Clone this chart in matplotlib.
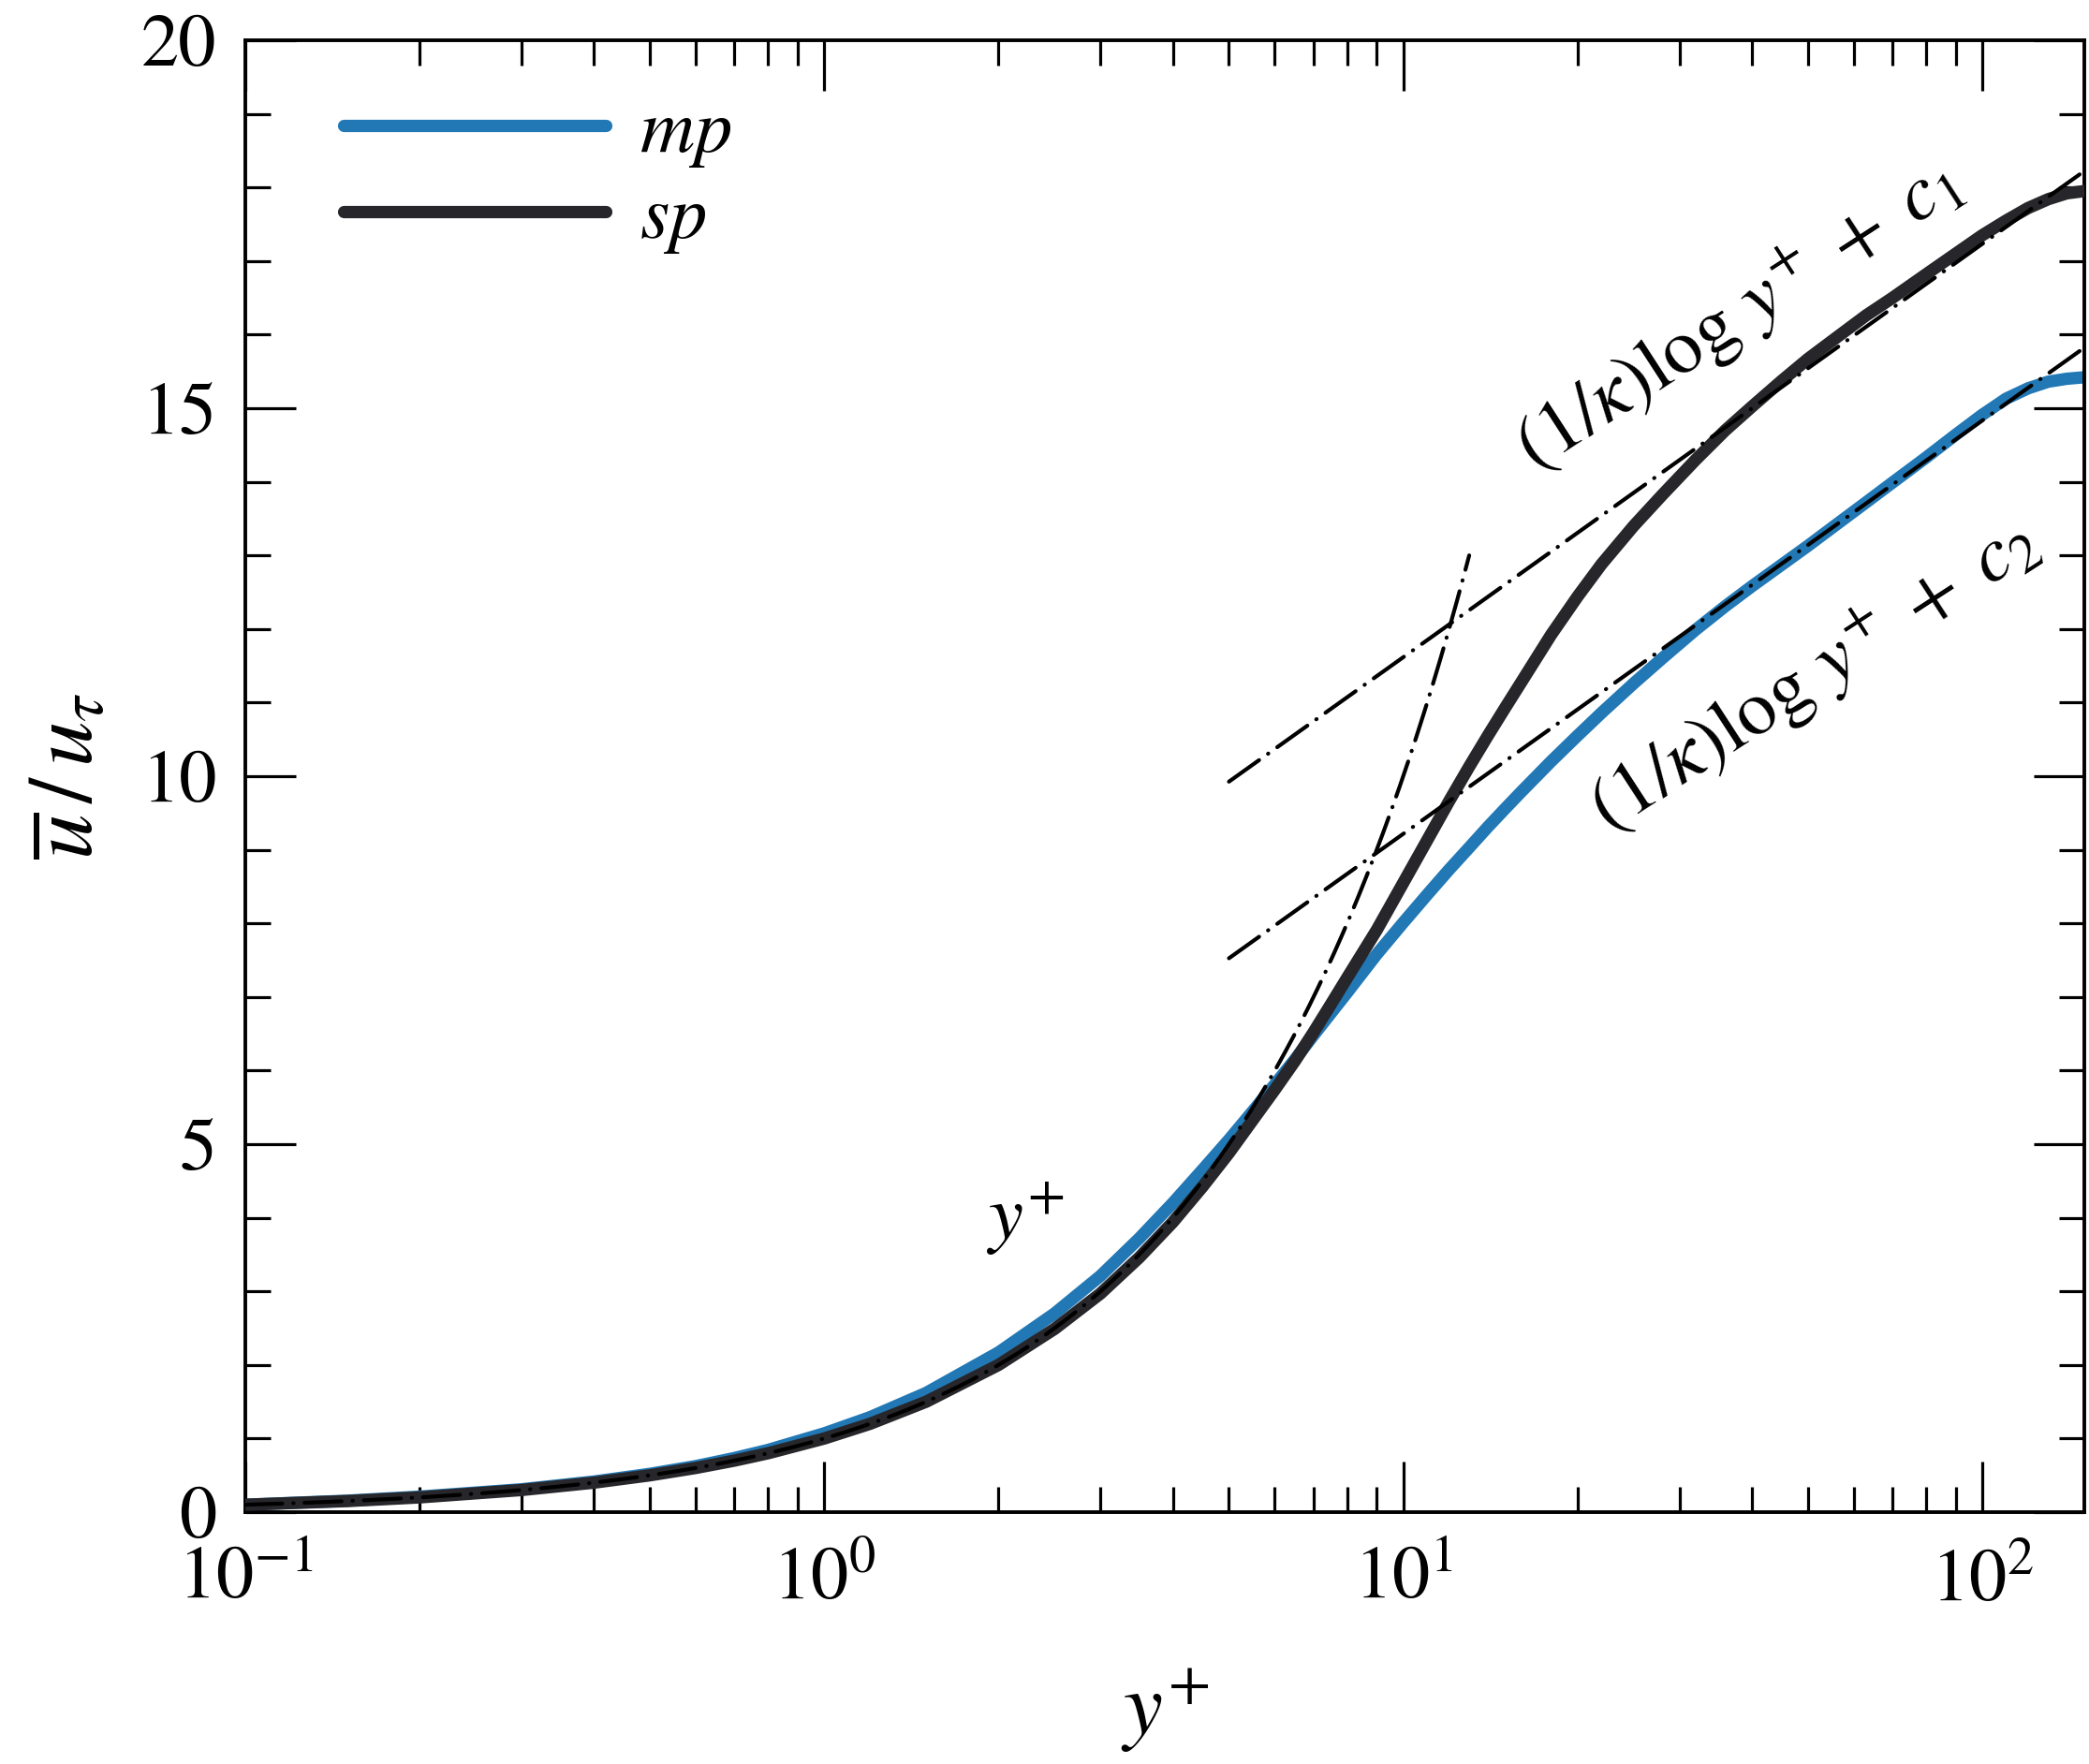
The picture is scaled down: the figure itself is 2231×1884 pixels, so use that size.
import numpy as np
import matplotlib
matplotlib.use('Agg')
import matplotlib.pyplot as plt
from matplotlib.ticker import LogLocator, MultipleLocator, NullFormatter

# ---------------- data ----------------
yplus = [0.1, 0.15, 0.2, 0.3, 0.4, 0.5, 0.6, 0.7, 0.8,
         1, 1.2, 1.5,
         2, 2.5, 3, 3.5, 4, 4.5, 5, 5.5, 6, 6.5, 7, 7.5, 8,
         9, 10, 11, 12, 13, 14, 15, 16,
         18, 20, 22, 25, 28, 32, 36, 40, 45, 50,
         56, 63, 70, 80, 90, 100, 110, 120, 130, 140, 150]
u_mp = [0.10, 0.155, 0.21, 0.31, 0.415, 0.52, 0.625, 0.735, 0.845,
        1.07, 1.29, 1.62,
        2.17, 2.70, 3.21, 3.72, 4.20, 4.65, 5.06, 5.45, 5.81, 6.15, 6.48, 6.78, 7.06,
        7.58, 8.01, 8.39, 8.73, 9.03, 9.31, 9.56, 9.79,
        10.20, 10.55, 10.86, 11.26, 11.60, 11.99, 12.31, 12.58, 12.87, 13.13,
        13.42, 13.72, 13.99, 14.33, 14.64, 14.91, 15.13, 15.27, 15.36, 15.40, 15.42]
u_sp = [0.10, 0.15, 0.20, 0.30, 0.40, 0.50, 0.60, 0.70, 0.80,
        1.00, 1.20, 1.50,
        2.00, 2.49, 2.97, 3.46, 3.94, 4.42, 4.88, 5.33, 5.74, 6.13, 6.52, 6.90, 7.26,
        7.91, 8.55, 9.13, 9.66, 10.13, 10.55, 10.93, 11.28,
        11.92, 12.44, 12.88, 13.40, 13.82, 14.30, 14.70, 15.02, 15.37, 15.67,
        15.96, 16.26, 16.50, 16.82, 17.10, 17.35, 17.55, 17.72, 17.84, 17.92, 17.95]
series_labels = ['$mp$', '$sp$']

kappa = 0.41
c1 = 6.0
c2 = 3.6
loglaw_range = [5, 150]
viscous_range = [0.1, 13]

y_ticks = [0, 5, 10, 15, 20]

# ---------------- style ----------------
plt.rcParams['font.family'] = ['STIXGeneral', 'Liberation Serif', 'DejaVu Serif']
plt.rcParams['mathtext.fontset'] = 'stix'

BLUE = '#2278b5'
DARK = '#27272b'
DASHDOT = (0, (9.5, 2.8, 0.1, 2.8))
CURVE_LW = 9.5
REF_LW = 3.0

fig = plt.figure(figsize=(22.31, 18.84), dpi=100)
ax = fig.add_axes([0.1174, 0.1428, 0.8803, 0.8344])

ax.plot(yplus, u_mp, color=BLUE, lw=CURVE_LW, solid_capstyle='round',
        solid_joinstyle='round', label=series_labels[0], zorder=2)
ax.plot(yplus, u_sp, color=DARK, lw=CURVE_LW, solid_capstyle='round',
        solid_joinstyle='round', label=series_labels[1], zorder=3)

# reference lines
yv = np.logspace(np.log10(viscous_range[0]), np.log10(viscous_range[1]), 300)
ax.plot(yv, yv, color='k', lw=REF_LW, ls=DASHDOT, dash_capstyle='round', zorder=4)
yl = np.array(loglaw_range, dtype=float)
ax.plot(yl, np.log(yl) / kappa + c1, color='k', lw=REF_LW, ls=DASHDOT,
        dash_capstyle='round', zorder=4)
ax.plot(yl, np.log(yl) / kappa + c2, color='k', lw=REF_LW, ls=DASHDOT,
        dash_capstyle='round', zorder=4)

# annotations
ax.text(38.0, 16.25, r'$(1/\kappa)\log\,y^{+}\;+\;c_1$', rotation=33,
        rotation_mode='anchor', ha='center', va='center', fontsize=60)
ax.text(51.4, 11.35, r'$(1/\kappa)\log\,y^{+}\;+\;c_2$', rotation=33,
        rotation_mode='anchor', ha='center', va='center', fontsize=60)
ax.text(2.22, 3.98, r'$y^{+}$', ha='center', va='center', fontsize=60)

# axes
ax.set_xscale('log')
ax.set_xlim(0.1, 150)
ax.set_ylim(0, 20)
ax.xaxis.set_major_locator(LogLocator(base=10, numticks=10))
ax.xaxis.set_minor_locator(LogLocator(base=10, subs=np.arange(2, 10), numticks=20))
ax.xaxis.set_minor_formatter(NullFormatter())
ax.set_yticks(y_ticks)
ax.yaxis.set_minor_locator(MultipleLocator(1))

ax.tick_params(which='both', direction='in', top=True, right=True,
               width=2.3, labelsize=58)
ax.tick_params(axis='y', which='both', pad=22)
ax.tick_params(axis='x', which='both', pad=27)
ax.tick_params(which='major', length=39)
ax.tick_params(which='minor', length=19.5)
for sp in ax.spines.values():
    sp.set_linewidth(2.8)

ax.set_xlabel(r'$y^{+}$', fontsize=68, labelpad=38)
ax.set_ylabel(r'$\overline{u}\,/\,u_{\tau}$', fontsize=70, labelpad=22)

ax.legend(loc='upper left', bbox_to_anchor=(0.0535, 0.96), frameon=False,
          fontsize=58, handlelength=3.47, handletextpad=0.45,
          labelspacing=0.2, borderpad=0, borderaxespad=0)

fig.savefig('out.png', dpi=100)
